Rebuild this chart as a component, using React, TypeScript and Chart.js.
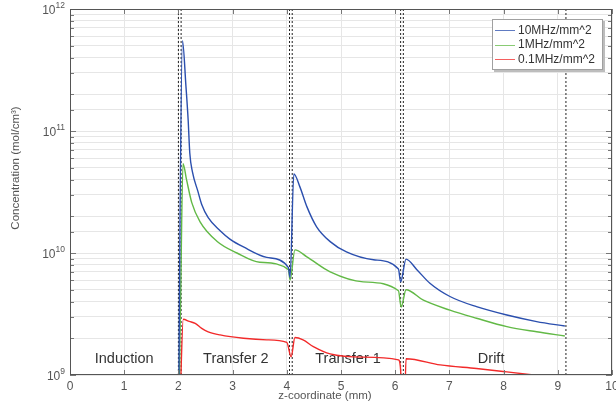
import React, { useEffect, useRef } from 'react';
import { Chart, registerables } from 'chart.js';
Chart.register(...registerables);

const FONT = '"Liberation Sans", Arial, Helvetica, sans-serif';

// Series labels and colours
const seriesLabels = ['10MHz/mm^2', '1MHz/mm^2', '0.1MHz/mm^2'];
const seriesColors = ['#2b4fae', '#62b946', '#f22a2a'];

// 10 MHz/mm^2
const zHigh = [2.0, 2.03, 2.075, 2.14, 2.18, 2.21, 2.26, 2.36, 2.43, 2.55, 2.77, 2.95, 3.2, 3.63, 4.03, 4.06, 4.13, 4.24, 4.37, 4.55, 4.8, 5.1, 5.6, 6.06, 6.1, 6.2, 6.4, 6.64, 7.01, 7.5, 8.06, 8.61, 9.13];
const cHigh = [2e8, 2e10, 5.5e11, 2.3e11, 1.23e11, 6.6e10, 4.6e10, 3.2e10, 2.5e10, 1.95e10, 1.52e10, 1.3e10, 1.12e10, 9.2e9, 7.6e9, 6.3e9, 4.45e10, 3.5e10, 2.4e10, 1.64e10, 1.24e10, 1.02e10, 8.8e9, 7.4e9, 5.8e9, 8.9e9, 7.3e9, 5.65e9, 4.4e9, 3.63e9, 3.1e9, 2.74e9, 2.52e9];

// 1 MHz/mm^2
const zMid = [2.0, 2.04, 2.085, 2.15, 2.245, 2.4, 2.71, 3.08, 3.5, 4.03, 4.06, 4.15, 4.37, 4.8, 5.41, 6.06, 6.11, 6.2, 6.52, 7.01, 7.5, 8.06, 8.61, 9.13];
const cMid = [3e8, 4e9, 5.4e10, 4.0e10, 2.6e10, 1.8e10, 1.25e10, 1.0e10, 8.4e9, 7.3e9, 6.0e9, 1.06e10, 9.3e9, 7.0e9, 5.8e9, 4.9e9, 3.6e9, 5.0e9, 4.1e9, 3.4e9, 2.92e9, 2.49e9, 2.26e9, 2.09e9];

// 0.1 MHz/mm^2
const zLow = [2.0, 2.03, 2.09, 2.2, 2.31, 2.43, 2.55, 2.77, 3.2, 3.63, 4.0, 4.08, 4.15, 4.3, 4.49, 4.8, 5.41, 6.06, 6.1, 6.13, 6.17, 6.2, 6.83, 7.5, 8.06, 8.55, 9.13];
const cLow = [3e8, 6e8, 2.86e9, 2.75e9, 2.65e9, 2.41e9, 2.26e9, 2.13e9, 2.0e9, 1.94e9, 1.85e9, 1.41e9, 2.03e9, 1.94e9, 1.71e9, 1.49e9, 1.40e9, 1.33e9, 1.1e9, 5e8, 5e8, 1.36e9, 1.21e9, 1.13e9, 1.06e9, 1.0e9, 0.93e9];

// Region boundaries (dashed lines) and labels
const boundaries = [2.0, 2.05, 4.05, 4.1, 6.1, 6.15, 9.15];
const regionLabels = ['Induction', 'Transfer 2', 'Transfer 1', 'Drift'];
const regionCenters = [1.0, 3.06, 5.13, 7.77];
const regionLevel = 1.35e9;

// Axis
const yMin = 1e9;
const yMax = 1e12;
const yExponents = [9, 10, 11, 12];
const xTitle = 'z-coordinate (mm)';
const yTitle = 'Concentration (mol/cm³)';

const decor = {
  id: 'decor',
  beforeDatasetsDraw(chart: any) {
    const { ctx, scales } = chart;
    const x = scales.x, y = scales.y;
    ctx.save();
    ctx.font = `14.5px ${FONT}`;
    ctx.fillStyle = '#333';
    ctx.textAlign = 'center';
    ctx.textBaseline = 'middle';
    regionLabels.forEach((t, i) => {
      ctx.fillText(t, x.getPixelForValue(regionCenters[i]), y.getPixelForValue(regionLevel));
    });
    ctx.restore();
  },
  afterDraw(chart: any) {
    const { ctx, chartArea, scales } = chart;
    const x = scales.x, y = scales.y;
    const { left, right, top, bottom } = chartArea;
    ctx.save();
    // tick marks inside
    ctx.strokeStyle = '#777';
    ctx.lineWidth = 1;
    y.ticks.forEach((t: any) => {
      const py = Math.round(y.getPixelForValue(t.value)) + 0.5;
      const major = Math.abs(Math.log10(t.value) - Math.round(Math.log10(t.value))) < 1e-6;
      const len = major ? 6 : 4;
      ctx.beginPath();
      ctx.moveTo(left, py); ctx.lineTo(left + len, py);
      ctx.moveTo(right, py); ctx.lineTo(right - len, py);
      ctx.stroke();
    });
    x.ticks.forEach((t: any) => {
      const px = Math.round(x.getPixelForValue(t.value)) + 0.5;
      ctx.beginPath();
      ctx.moveTo(px, bottom); ctx.lineTo(px, bottom - 5);
      ctx.moveTo(px, top); ctx.lineTo(px, top + 5);
      ctx.stroke();
    });
    // box
    ctx.strokeStyle = '#555';
    ctx.strokeRect(Math.round(left) + 0.5, Math.round(top) + 0.5, Math.round(right - left) - 1, Math.round(bottom - top) - 1);

    // y tick labels with superscripts
    ctx.fillStyle = '#555';
    yExponents.forEach((e) => {
      const py = y.getPixelForValue(Math.pow(10, e));
      const sup = String(e);
      ctx.font = `8.5px ${FONT}`;
      const we = ctx.measureText(sup).width;
      const xr = left - 5;
      ctx.textAlign = 'left';
      ctx.textBaseline = 'alphabetic';
      ctx.fillText(sup, xr - we, py - 1);
      ctx.font = `12px ${FONT}`;
      ctx.textAlign = 'right';
      ctx.textBaseline = 'middle';
      ctx.fillText('10', xr - we, py + 1.5);
    });

    // axis titles
    ctx.font = `11.5px ${FONT}`;
    ctx.fillStyle = '#555';
    ctx.textAlign = 'center';
    ctx.textBaseline = 'middle';
    ctx.fillText(xTitle, 325, 396);
    ctx.save();
    ctx.translate(16, 168);
    ctx.rotate(-Math.PI / 2);
    ctx.fillText(yTitle, 0, 0);
    ctx.restore();

    // legend
    const lx = 492, ly = 19, lw = 111, lh = 51;
    ctx.fillStyle = '#bdbdbd';
    ctx.fillRect(lx + 2, ly + 2, lw, lh);
    ctx.fillStyle = '#fff';
    ctx.fillRect(lx, ly, lw, lh);
    ctx.strokeStyle = '#a0a0a0';
    ctx.strokeRect(lx + 0.5, ly + 0.5, lw - 1, lh - 1);
    ctx.font = `12px ${FONT}`;
    ctx.textAlign = 'left';
    ctx.textBaseline = 'middle';
    seriesLabels.forEach((lab, i) => {
      const ry = ly + 11 + i * 14.5;
      ctx.strokeStyle = seriesColors[i];
      ctx.globalAlpha = 0.75;
      ctx.lineWidth = 1;
      ctx.beginPath();
      ctx.moveTo(lx + 3, Math.round(ry) + 0.5);
      ctx.lineTo(lx + 23, Math.round(ry) + 0.5);
      ctx.stroke();
      ctx.globalAlpha = 1;
      ctx.fillStyle = '#333';
      ctx.fillText(lab, lx + 26, ry + 0.5);
    });
    ctx.restore();
  },
};

function pts(zs: number[], cs: number[]) {
  return zs.map((z, i) => ({ x: z, y: cs[i] }));
}

export default function App() {
  const ref = useRef<HTMLCanvasElement>(null);
  useEffect(() => {
    document.body.style.margin = '0';
    const canvas = ref.current!;
    const series = [pts(zHigh, cHigh), pts(zMid, cMid), pts(zLow, cLow)];
    const datasets: any[] = series.map((d, i) => ({
      label: seriesLabels[i],
      data: d,
      borderColor: seriesColors[i],
      backgroundColor: seriesColors[i],
      borderWidth: 1.4,
      pointRadius: 0,
      cubicInterpolationMode: 'monotone',
    }));
    boundaries.forEach((b) => {
      datasets.push({
        label: '',
        data: [{ x: b, y: yMin }, { x: b, y: yMax }],
        borderColor: '#222',
        borderWidth: 1,
        borderDash: [2, 2],
        pointRadius: 0,
      });
    });
    const chart = new Chart(canvas, {
      type: 'line',
      data: { datasets },
      options: {
        responsive: false,
        devicePixelRatio: 1,
        animation: false,
        layout: { padding: { top: 9, right: 4, bottom: 0, left: 0 } },
        plugins: { legend: { display: false }, tooltip: { enabled: false } },
        scales: {
          x: {
            type: 'linear',
            min: 0,
            max: 10,
            afterFit: (s: any) => { s.height = 30; s.paddingLeft = 0; s.paddingRight = 0; },
            ticks: { stepSize: 1, color: '#555', font: { family: FONT, size: 12 }, padding: 4, maxRotation: 0 },
            grid: { color: '#e6e6e6', drawTicks: false },
            border: { display: false },
          },
          y: {
            type: 'logarithmic',
            min: yMin,
            max: yMax,
            afterFit: (s: any) => { s.width = 70; s.paddingTop = 0; s.paddingBottom = 0; },
            ticks: { display: false },
            grid: { color: '#e6e6e6', drawTicks: false },
            border: { display: false },
          },
        },
      },
      plugins: [decor],
    } as any);
    return () => chart.destroy();
  }, []);
  return (
    <div style={{ width: 616, height: 405 }}>
      <canvas ref={ref} width={616} height={405} style={{ display: 'block', width: 616, height: 405 }} />
    </div>
  );
}
